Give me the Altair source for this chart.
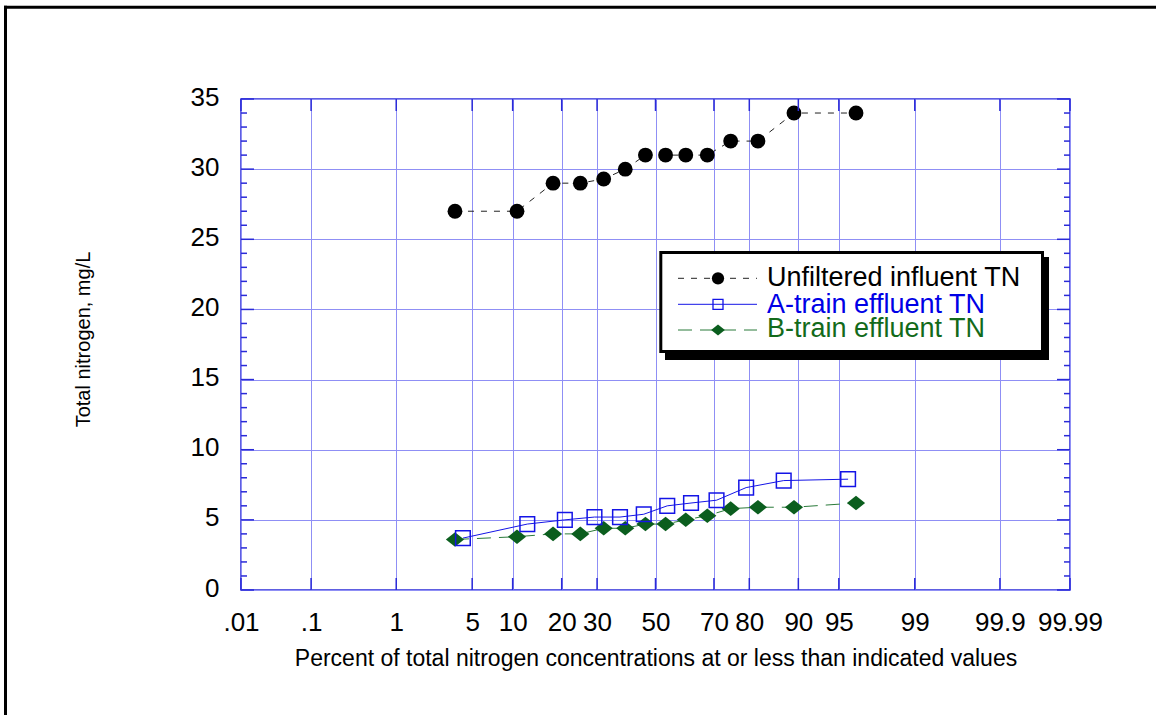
import json
from statistics import NormalDist

import altair as alt
import pandas as pd

# Cumulative percent (plotting position) and total nitrogen, mg/L
influent_pct = [3.6, 10.7, 17.9, 25.0, 32.1, 39.3, 46.4, 53.6, 60.7, 67.9, 75.0, 82.1, 89.3, 96.4]
influent_tn = [27, 27, 29, 29, 29.3, 30, 31, 31, 31, 31, 32, 32, 34, 34]

a_train_pct = [4.2, 12.5, 20.8, 29.2, 37.5, 45.8, 54.2, 62.5, 70.8, 79.2, 87.5, 95.8]
a_train_tn = [3.7, 4.7, 5.0, 5.2, 5.2, 5.4, 6.0, 6.2, 6.4, 7.3, 7.8, 7.9]

b_train_pct = [3.6, 10.7, 17.9, 25.0, 32.1, 39.3, 46.4, 53.6, 60.7, 67.9, 75.0, 82.1, 89.3, 96.4]
b_train_tn = [3.6, 3.8, 4.0, 4.0, 4.4, 4.4, 4.7, 4.7, 5.0, 5.3, 5.8, 5.9, 5.9, 6.2]

series_names = ["Unfiltered influent TN", "A-train effluent TN", "B-train effluent TN"]

# Probability-axis tick marks
tick_pct = [0.01, 0.1, 1, 5, 10, 20, 30, 50, 70, 80, 90, 95, 99, 99.9, 99.99]
tick_text = [".01", ".1", "1", "5", "10", "20", "30", "50", "70", "80", "90", "95", "99", "99.9", "99.99"]
y_major = [0, 5, 10, 15, 20, 25, 30, 35]
y_minor = [v for v in range(0, 36) if v % 5 != 0]

W, H = 829, 491
FONT = "Liberation Sans"
FRAME = "#2a2ad8"
GRID = "#8f8ff5"
BLACK_LINE = "#222222"
BLUE = "#1414e6"
GREEN_LINE = "#2a7a3a"
GREEN = "#0b5e1e"

_nd = NormalDist()


def probit(p):
    """Normal score of a cumulative percent (probability-paper scale)."""
    return round(_nd.inv_cdf(p / 100.0), 4)


tick_z = [probit(p) for p in tick_pct]


def series_frame(pct, tn):
    return pd.DataFrame({"z": [probit(p) for p in pct], "tn": tn})


inf_df = series_frame(influent_pct, influent_tn)
a_df = series_frame(a_train_pct, a_train_tn)
b_df = series_frame(b_train_pct, b_train_tn)

x_scale = alt.Scale(domain=[tick_z[0], tick_z[-1]], nice=False, zero=False)
y_scale = alt.Scale(domain=[0, 35], nice=False, zero=False)

label_expr = f"{json.dumps(tick_text)}[indexof({json.dumps(tick_z)}, datum.value)]"

x_axis = alt.Axis(
    values=tick_z,
    labelExpr=label_expr,
    grid=True,
    gridColor=GRID,
    gridWidth=1,
    ticks=False,
    tickSize=0,
    domain=False,
    labelFontSize=26,
    labelPadding=19,
    labelOverlap=False,
    labelFlush=False,
    labelColor="black",
    title="Percent of total nitrogen concentrations at or less than indicated values",
    titleFontSize=23,
    titleFontWeight="normal",
    titleColor="black",
    titlePadding=12,
)
y_axis = alt.Axis(
    values=y_major,
    grid=True,
    gridColor=GRID,
    gridWidth=1,
    ticks=False,
    tickSize=0,
    domain=False,
    labelFontSize=26,
    labelPadding=22,
    labelOffset=-2,
    labelFlush=False,
    labelOverlap=False,
    labelColor="black",
    title="Total nitrogen, mg/L",
    titleFontSize=20,
    titleFontWeight="normal",
    titleColor="black",
    titleX=-148,
    titleY=240,
)

# Every layer shares the same fields, scales and axes
X = alt.X("z:Q", scale=x_scale, axis=x_axis)
Y = alt.Y("tn:Q", scale=y_scale, axis=y_axis)

diamond = "M-1,0L0,-0.8L1,0L0,0.8Z"

# Inward tick marks on all four sides of the frame
yminor_df = pd.DataFrame({"tn": y_minor})
ymajor_df = pd.DataFrame({"tn": y_major})
xtick_df = pd.DataFrame({"z": tick_z})

ticks = [
    alt.Chart(yminor_df).mark_rule(color=FRAME, strokeWidth=1.5).encode(
        y=Y, x=alt.value(0), x2=alt.value(6)),
    alt.Chart(yminor_df).mark_rule(color=FRAME, strokeWidth=1.5).encode(
        y=Y, x=alt.value(W), x2=alt.value(W - 6)),
    alt.Chart(ymajor_df).mark_rule(color=FRAME, strokeWidth=1.5).encode(
        y=Y, x=alt.value(0), x2=alt.value(13)),
    alt.Chart(ymajor_df).mark_rule(color=FRAME, strokeWidth=1.5).encode(
        y=Y, x=alt.value(W), x2=alt.value(W - 13)),
    alt.Chart(xtick_df).mark_rule(color=FRAME, strokeWidth=1.5).encode(
        x=X, y=alt.value(H), y2=alt.value(H - 12)),
    alt.Chart(xtick_df).mark_rule(color=FRAME, strokeWidth=1.5).encode(
        x=X, y=alt.value(0), y2=alt.value(12)),
]

# Data series
series = [
    alt.Chart(inf_df).mark_line(color=BLACK_LINE, strokeDash=[6, 7], strokeWidth=1).encode(x=X, y=Y),
    alt.Chart(a_df).mark_line(color=BLUE, strokeWidth=1).encode(x=X, y=Y),
    alt.Chart(b_df).mark_line(color=GREEN_LINE, strokeDash=[14, 8], strokeWidth=1).encode(x=X, y=Y),
    alt.Chart(inf_df).mark_point(shape="circle", filled=True, size=220, color="black", opacity=1).encode(x=X, y=Y),
    alt.Chart(b_df).mark_point(shape=diamond, filled=True, size=330, color=GREEN, opacity=1).encode(x=X, y=Y),
    alt.Chart(a_df).mark_point(shape="square", filled=False, size=215, color=BLUE, strokeWidth=1.5, opacity=1).encode(x=X, y=Y),
]

# Legend box with drop shadow
one = pd.DataFrame({"k": [0]})
legend = [
    alt.Chart(one).mark_rect(color="black").encode(
        x=alt.value(424), x2=alt.value(808), y=alt.value(158), y2=alt.value(261)),
    alt.Chart(one).mark_rect(fill="white", stroke="black", strokeWidth=3).encode(
        x=alt.value(419.8), x2=alt.value(801.5), y=alt.value(153.5), y2=alt.value(252.5)),
]

legend_rows = [
    # (name, line colour, dash, marker shape, filled, size, marker colour, text colour, marker y, text baseline y)
    (series_names[0], BLACK_LINE, [6, 7], "circle", True, 150, "black", "black", 179.3, 187.0),
    (series_names[1], BLUE, None, "square", False, 100, BLUE, "#0000e6", 205.3, 214.3),
    (series_names[2], GREEN_LINE, [14, 8], diamond, True, 190, GREEN, "#136a1a", 231.0, 238.0),
]
for name, lcol, dash, shape, filled, size, mcol, tcol, my, ty in legend_rows:
    row = pd.DataFrame({"name": [name]})
    rule_kw = dict(color=lcol, strokeWidth=1)
    if dash:
        rule_kw["strokeDash"] = dash
    legend.append(alt.Chart(row).mark_rule(**rule_kw).encode(
        x=alt.value(437), x2=alt.value(516), y=alt.value(my)))
    pt_kw = dict(shape=shape, filled=filled, size=size, color=mcol, opacity=1)
    if not filled:
        pt_kw["strokeWidth"] = 1.3
    legend.append(alt.Chart(row).mark_point(**pt_kw).encode(
        x=alt.value(477), y=alt.value(my)))
    legend.append(alt.Chart(row).mark_text(
        align="left", baseline="alphabetic", fontSize=27, font=FONT, color=tcol
    ).encode(x=alt.value(526), y=alt.value(ty), text="name:N"))

# Outer figure frame (top and left edges)
frame = [
    alt.Chart(one).mark_rule(color="black", strokeWidth=3).encode(
        x=alt.value(-237), x2=alt.value(W + 100), y=alt.value(-91.7)),
    alt.Chart(one).mark_rule(color="black", strokeWidth=3).encode(
        x=alt.value(-235.5), y=alt.value(-93.2), y2=alt.value(H + 140)),
]

chart = alt.layer(*series, *ticks, *legend, *frame).properties(
    width=W,
    height=H,
    autosize=alt.AutoSizeParams(type="none"),
    padding={"left": 241, "top": 99, "right": 86, "bottom": 125},
    background="white",
).configure(font=FONT).configure_view(stroke=FRAME, strokeWidth=1.5)

chart.save("out.html", embed_options={"renderer": "svg", "actions": False})
